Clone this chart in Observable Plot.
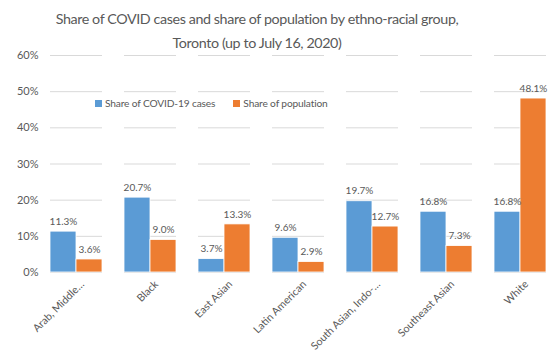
<!DOCTYPE html>
<html>
<head>
<meta charset="utf-8">
<script src="https://cdn.jsdelivr.net/npm/d3@7"></script>
<script src="https://cdn.jsdelivr.net/npm/@observablehq/plot@0.6"></script>
<style>
  html, body { margin: 0; padding: 0; background: #fff; }
  #wrap { position: relative; width: 550px; height: 355px; overflow: hidden; font-family: Lato, "Open Sans", sans-serif; }
  #title { height: 44px; padding-top: 7px; padding-right: 36px; box-sizing: border-box; text-align: center; color: #595959; font-size: 14.3px; letter-spacing: -0.4px; line-height: 24px; white-space: nowrap; }
  #legend { position: absolute; top: 97px; left: 95px; font-size: 10.2px; letter-spacing: -0.15px; color: #595959; display: flex; gap: 18px; }
  #legend span.sw { display: inline-block; width: 7px; height: 7px; margin-right: 3px; vertical-align: 0px; }
</style>
</head>
<body>
<div id="wrap">
  <div id="title">Share of COVID cases and share of population by ethno-racial group,<br>Toronto (up to July 16, 2020)</div>
  <div id="chart"></div>
  <div id="legend"></div>
</div>
<script>
const categories = ["Arab, Middle…", "Black", "East Asian", "Latin American", "South Asian, Indo-…", "Southeast Asian", "White"];
const series = ["Share of COVID-19 cases", "Share of population"];
const casesShare = [0.113, 0.207, 0.037, 0.096, 0.197, 0.168, 0.168];
const popShare = [0.036, 0.090, 0.133, 0.029, 0.127, 0.073, 0.481];
const yTicks = [0, 0.1, 0.2, 0.3, 0.4, 0.5, 0.6];
const colors = ["#5B9BD5", "#ED7D31"];

const rows = [];
categories.forEach((c, i) => {
  rows.push({category: c, series: series[0], value: casesShare[i]});
  rows.push({category: c, series: series[1], value: popShare[i]});
});

const plot = Plot.plot({
  width: 550,
  height: 311,
  marginTop: 11,
  marginBottom: 83,
  marginLeft: 47,
  marginRight: 1,
  style: {fontFamily: "Lato, 'Open Sans', sans-serif", color: "#595959", fontSize: "11px", overflow: "visible"},
  fx: {domain: categories, paddingInner: 0.3, paddingOuter: 0, label: null, axis: null},
  x: {domain: series, padding: 0, axis: null},
  y: {domain: [0, 0.6], ticks: yTicks, tickFormat: d3.format(".0%"), label: null, grid: false},
  color: {domain: series, range: colors},
  marks: [
    Plot.gridY(yTicks, {stroke: "#D9D9D9", strokeOpacity: 1}),
    Plot.axisY(yTicks, {tickSize: 0, tickPadding: 12, tickFormat: d3.format(".0%"), fontSize: 11, label: null}),
    Plot.axisFx({anchor: "bottom", tickRotate: -45, tickSize: 0, tickPadding: 7, fontSize: 10.6, label: null, dx: 6, dy: 3}),
    Plot.barY(rows, {fx: "category", x: "series", y: "value", fill: "series", stroke: "#fff", strokeWidth: 0.8}),
    Plot.text(rows, {fx: "category", x: "series", y: "value", text: d => d3.format(".1%")(d.value), dy: -10, fill: "#595959", fontSize: 10})
  ]
});
document.getElementById("chart").appendChild(plot);

const legend = document.getElementById("legend");
series.forEach((s, i) => {
  const item = document.createElement("div");
  item.innerHTML = `<span class="sw" style="background:${colors[i]}"></span>${s}`;
  legend.appendChild(item);
});
</script>
</body>
</html>
